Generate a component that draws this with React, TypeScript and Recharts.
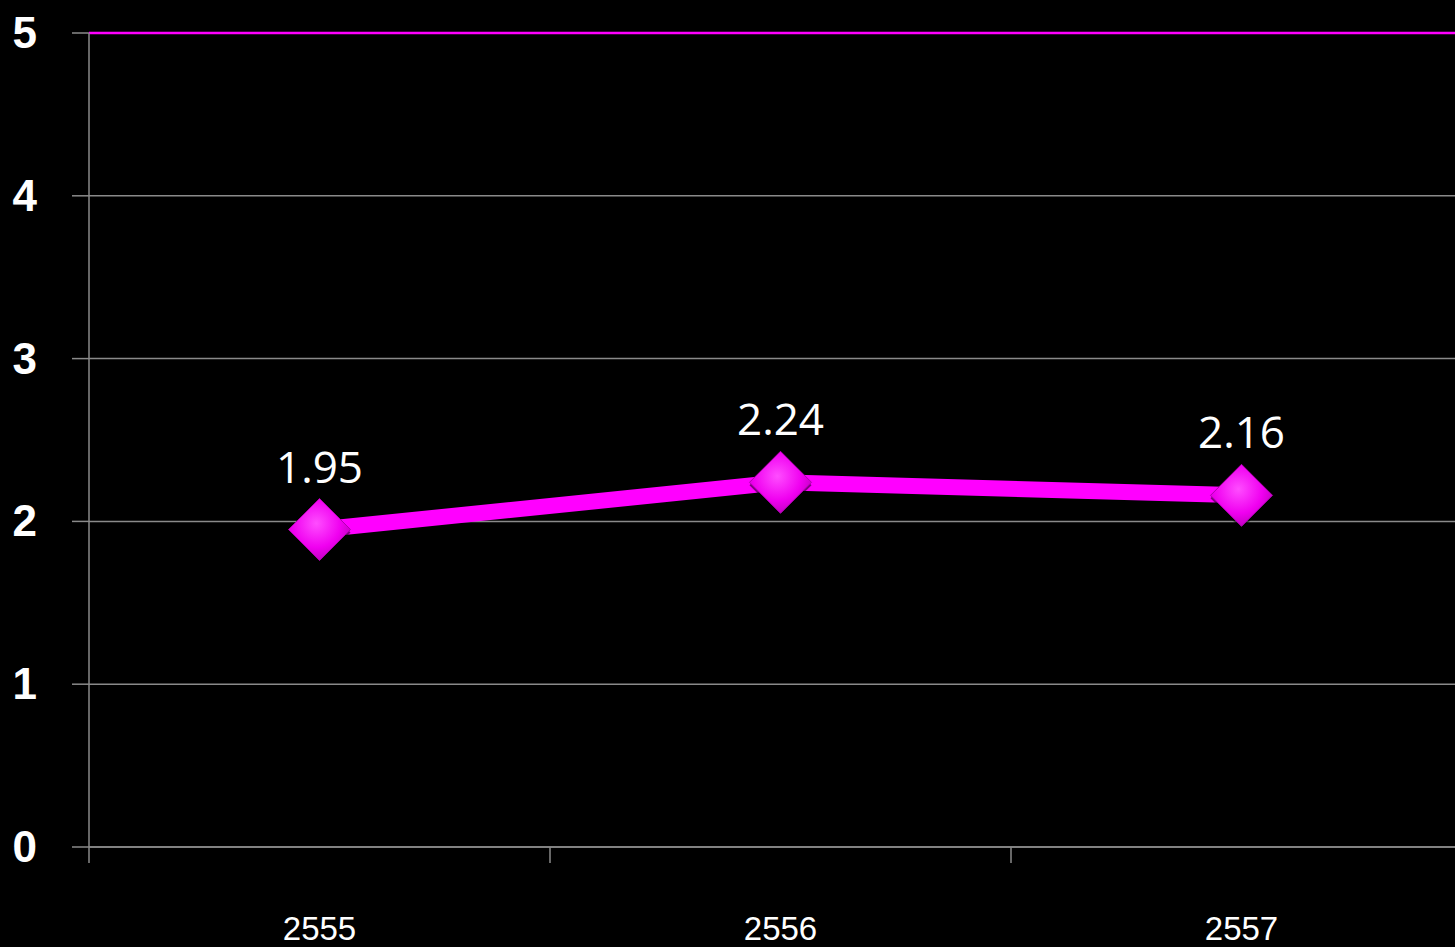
import React from "react";
import {
  LineChart,
  Line,
  XAxis,
  YAxis,
  CartesianGrid,
  ReferenceLine,
  LabelList,
} from "recharts";

const years = ["2555", "2556", "2557"];
const values = [1.95, 2.24, 2.16];
const yTicks = [0, 1, 2, 3, 4, 5];

const MAGENTA = "#ff00ff";
const GRID = "#8a8a8a";

// points sit in the middle of each year band, tick marks on band edges
const data = years.map((year, i) => ({ pos: i + 0.5, year, value: values[i] }));
const xTicks = [0, 0.5, 1, 1.5, 2, 2.5, 3];

function XTick({ x, y, payload }: any) {
  const v = payload.value;
  if (Number.isInteger(v)) {
    return <line x1={x} x2={x} y1={y} y2={y + 16} stroke={GRID} strokeWidth={1.5} />;
  }
  return (
    <text
      x={x}
      y={y + 93}
      textAnchor="middle"
      fill="#ffffff"
      fontSize={33}
      fontFamily="'Liberation Sans', Arial, sans-serif"
    >
      {years[Math.floor(v)]}
    </text>
  );
}

function YTick({ y, payload }: any) {
  return (
    <text
      x={37}
      y={y}
      dy={15}
      textAnchor="end"
      fill="#ffffff"
      fontSize={44}
      fontWeight="bold"
      fontFamily="'Liberation Sans', Arial, sans-serif"
    >
      {payload.value}
    </text>
  );
}

function Diamond({ cx, cy, index }: any) {
  if (cx == null || cy == null) return null;
  const r = 31;
  return (
    <g key={`d-${index}`}>
      <path
        d={`M${cx},${cy - r + 3} L${cx + r},${cy + 3} L${cx},${cy + r + 3} L${cx - r},${cy + 3} Z`}
        fill="#000000"
        opacity={0.5}
      />
      <path
        d={`M${cx},${cy - r} L${cx + r},${cy} L${cx},${cy + r} L${cx - r},${cy} Z`}
        fill="url(#diamondFill)"
        stroke="#b000b0"
        strokeWidth={1}
      />
    </g>
  );
}

function ValueLabel({ x, y, value }: any) {
  return (
    <text
      x={x}
      y={y - 47}
      textAnchor="middle"
      fill="#ffffff"
      fontSize={44}
      fontFamily="'Open Sans', sans-serif"
    >
      {value}
    </text>
  );
}

export default function App() {
  return (
    <div
      style={{
        position: "fixed",
        left: 0,
        top: 0,
        width: 1455,
        height: 947,
        overflow: "hidden",
        background: "#000000",
      }}
    >
      <LineChart
        width={1472}
        height={947}
        data={data}
        margin={{ top: 33, right: 0, left: 0, bottom: 0 }}
      >
        <defs>
          <radialGradient id="diamondFill" cx="45%" cy="40%" r="65%">
            <stop offset="0%" stopColor="#ff4dff" />
            <stop offset="60%" stopColor="#f000f0" />
            <stop offset="100%" stopColor="#b800b8" />
          </radialGradient>
        </defs>
        <CartesianGrid vertical={false} stroke={GRID} strokeWidth={1.5} />
        <XAxis
          dataKey="pos"
          type="number"
          domain={[0, 3]}
          ticks={xTicks}
          interval={0}
          height={100}
          tickLine={false}
          tickSize={0}
          tickMargin={0}
          axisLine={{ stroke: GRID, strokeWidth: 1.5 }}
          tick={<XTick />}
        />
        <YAxis
          domain={[0, 5]}
          ticks={yTicks}
          interval={0}
          width={89}
          tickSize={17}
          tickLine={{ stroke: GRID, strokeWidth: 1.5 }}
          axisLine={{ stroke: GRID, strokeWidth: 1.5 }}
          tick={<YTick />}
        />
        <ReferenceLine y={5} stroke={MAGENTA} strokeWidth={2.5} />
        <Line
          type="linear"
          dataKey="value"
          stroke={MAGENTA}
          strokeWidth={16}
          dot={<Diamond />}
          activeDot={false}
          isAnimationActive={false}
        >
          <LabelList dataKey="value" content={<ValueLabel />} />
        </Line>
      </LineChart>
    </div>
  );
}
